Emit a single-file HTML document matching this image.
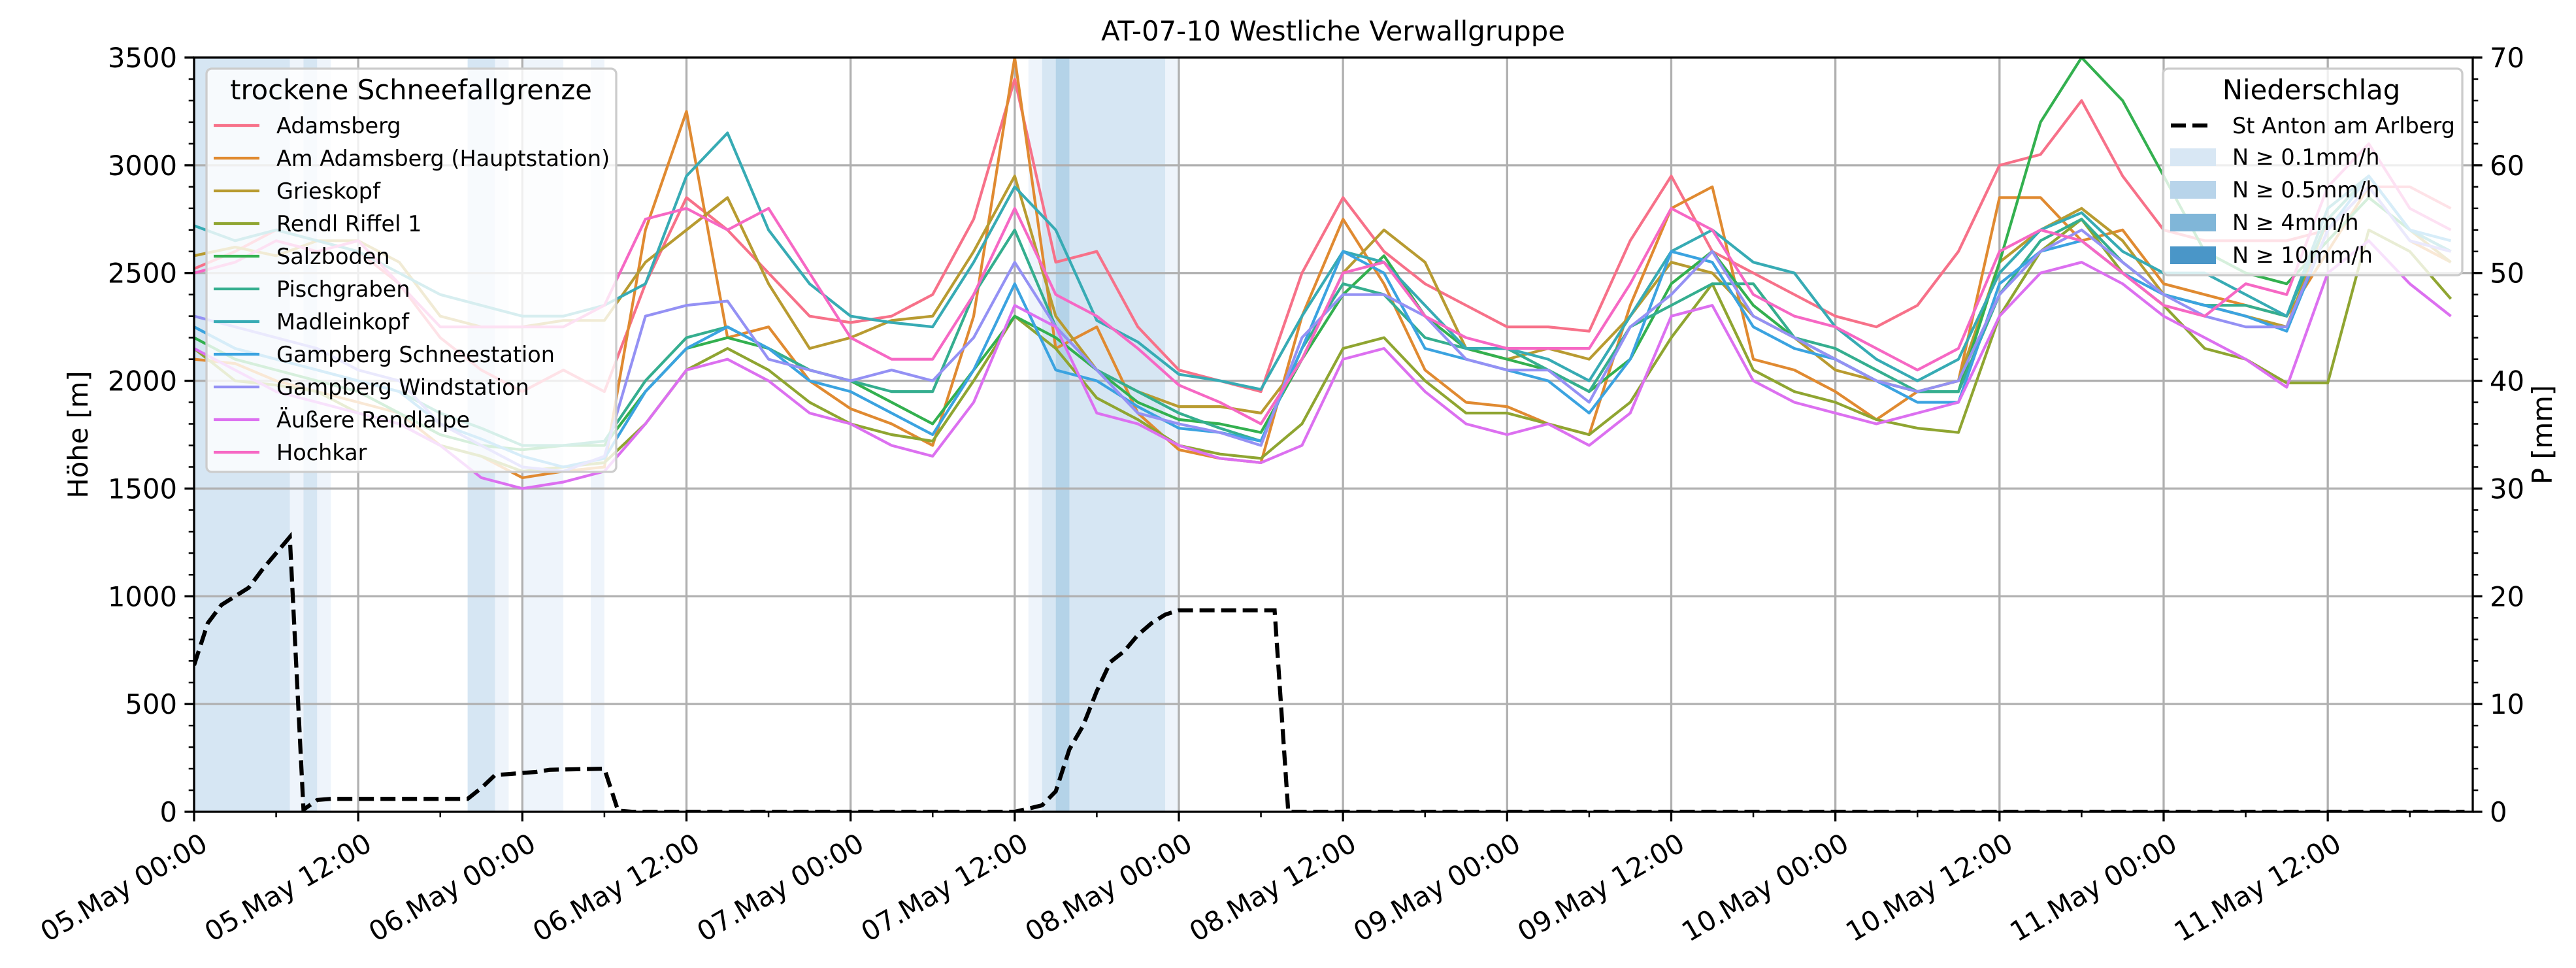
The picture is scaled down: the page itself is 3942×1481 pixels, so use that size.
<!DOCTYPE html>
<html><head><meta charset="utf-8"><title>AT-07-10 Westliche Verwallgruppe</title>
<style>html,body{margin:0;padding:0;background:#fff}svg{display:block;font-family:"DejaVu Sans","Liberation Sans",sans-serif}</style>
</head><body>
<svg id="chart" xmlns="http://www.w3.org/2000/svg" width="3942" height="1481" viewBox="0 0 3942 1481">
<defs><clipPath id="plotclip"><rect x="297" y="88" width="3487" height="1154"/></clipPath></defs>
<g id="bands" clip-path="url(#plotclip)"></g>
<g id="grid"></g>
<g id="series" clip-path="url(#plotclip)"></g>
<g id="precip" clip-path="url(#plotclip)"></g>
<g id="axes"></g>
<g id="legends"></g>
<text x="2040" y="62" font-size="41.7" text-anchor="middle">AT-07-10 Westliche Verwallgruppe</text>
<text x="0" y="0" font-size="41.7" text-anchor="middle" transform="translate(134,665) rotate(-90)">Höhe [m]</text>
<text x="0" y="0" font-size="41.7" text-anchor="middle" transform="translate(3905,665) rotate(-90)">P [mm]</text>
</svg>
<script>
const hours = [0,3,6,9,12,15,18,21,24,27,30,33,36,39,42,45,48,51,54,57,60,63,66,69,72,75,78,81,84,87,90,93,96,99,102,105,108,111,114,117,120,123,126,129,132,135,138,141,144,147,150,153,156,159,162,165];
const stationNames = ["Adamsberg","Am Adamsberg (Hauptstation)","Grieskopf","Rendl Riffel 1","Salzboden","Pischgraben","Madleinkopf","Gampberg Schneestation","Gampberg Windstation","Äußere Rendlalpe","Hochkar"];
const stationColors = ["#f77189","#e08a31","#b89b31","#8fa531","#33b04f","#35ae8f","#37abb4","#3ba3e0","#9491f4","#dc70f0","#f668c4"];
const adamsberg = [2520,2600,2700,2650,2600,2450,2200,2050,1950,2050,1950,2450,2850,2700,2500,2300,2270,2300,2400,2750,3400,2550,2600,2250,2050,2000,1950,2500,2850,2600,2450,2350,2250,2250,2230,2650,2950,2600,2500,2400,2300,2250,2350,2600,3000,3050,3300,2950,2700,2650,2650,2650,2700,2900,2900,2800];
const amAdamsberg = [2100,2080,2000,1950,1900,1850,1700,1650,1550,1580,1600,2700,3250,2200,2250,2000,1870,1800,1700,2300,3500,2150,2250,1850,1680,1640,1620,2300,2750,2450,2050,1900,1880,1800,1750,2350,2800,2900,2100,2050,1950,1820,1950,2000,2850,2850,2650,2700,2450,2400,2350,2300,2600,2900,2650,2550];
const grieskopf = [2580,2620,2580,2650,2650,2550,2300,2250,2250,2280,2280,2550,2700,2850,2450,2150,2200,2280,2300,2600,2950,2300,2050,1950,1880,1880,1850,2100,2500,2700,2550,2150,2100,2150,2100,2300,2550,2500,2300,2200,2050,2000,1950,2000,2550,2700,2800,2650,2400,2350,2300,2250,2750,2950,2700,2550];
const rendlRiffel = [2150,2000,1980,1950,1850,1800,1700,1650,1580,1600,1620,1800,2050,2150,2050,1900,1800,1750,1720,2000,2300,2150,1920,1820,1700,1660,1640,1800,2150,2200,2000,1850,1850,1800,1750,1900,2200,2450,2050,1950,1900,1820,1780,1760,2300,2600,2750,2500,2350,2150,2100,1990,1990,2700,2600,2380];
const salzboden = [2200,2100,2050,2000,1950,1850,1750,1700,1680,1700,1700,1950,2150,2200,2150,2050,2000,1900,1800,2050,2300,2200,2050,1900,1820,1800,1760,2100,2400,2580,2300,2150,2100,2050,1950,2100,2450,2600,2350,2200,2100,2000,1950,1950,2550,3200,3500,3300,2950,2600,2500,2450,2650,2850,2700,2600];
const pischgraben = [2250,2150,2100,2050,2000,1950,1850,1780,1700,1700,1720,2000,2200,2250,2150,2050,2000,1950,1950,2400,2700,2250,2050,1950,1850,1780,1720,2150,2450,2400,2200,2150,2150,2050,1950,2250,2350,2450,2450,2200,2150,2050,1950,1950,2400,2650,2750,2550,2400,2350,2350,2300,2750,2950,2700,2600];
const madleinkopf = [2720,2650,2700,2650,2600,2500,2400,2350,2300,2300,2350,2450,2950,3150,2700,2450,2300,2270,2250,2550,2900,2700,2280,2180,2030,2000,1960,2300,2600,2550,2350,2150,2150,2100,2000,2300,2600,2700,2550,2500,2250,2100,2000,2100,2500,2700,2780,2600,2500,2500,2400,2300,2800,2950,2700,2600];
const schneestation = [2250,2150,2100,2050,2000,1950,1800,1730,1650,1600,1640,1950,2150,2250,2150,2000,1950,1850,1750,2050,2450,2050,2000,1880,1780,1760,1720,2150,2600,2500,2150,2100,2050,2000,1850,2100,2600,2550,2250,2150,2100,2000,1900,1900,2450,2600,2650,2500,2400,2350,2300,2230,2700,2950,2700,2650];
const windstation = [2300,2250,2200,2150,2050,2000,1800,1700,1600,1580,1650,2300,2350,2370,2100,2050,2000,2050,2000,2200,2550,2250,2050,1850,1800,1760,1700,2200,2400,2400,2300,2100,2050,2050,1900,2250,2400,2600,2300,2200,2100,2000,1950,2000,2400,2600,2700,2550,2400,2300,2250,2250,2700,2900,2650,2600];
const rendlalpe = [2150,2050,1950,1900,1850,1800,1700,1550,1500,1530,1580,1800,2050,2100,2000,1850,1800,1700,1650,1900,2350,2250,1850,1800,1700,1640,1620,1700,2100,2150,1950,1800,1750,1800,1700,1850,2300,2350,2000,1900,1850,1800,1850,1900,2300,2500,2550,2450,2300,2200,2100,1970,2500,2650,2450,2300];
const hochkar = [2500,2550,2650,2600,2650,2450,2250,2250,2250,2250,2350,2750,2800,2700,2800,2500,2200,2100,2100,2400,2800,2400,2300,2150,1980,1900,1800,2100,2500,2550,2300,2200,2150,2150,2150,2450,2800,2700,2400,2300,2250,2150,2050,2150,2600,2700,2650,2500,2350,2300,2450,2400,2900,3100,2800,2700];
const precipHours = [0,1,2,3,4,5,6,7,8,9,10,20,21,22,23,25,26,30,31,32,60,61,62,63,64,65,66,67,68,69,70,71,72,79,80,166];
const precipValues = [13.6,17.5,19.2,20,20.8,22.5,24,25.5,0.2,1.1,1.2,1.2,2.2,3.4,3.5,3.7,3.9,4.0,0.1,0,0,0.3,0.6,1.9,5.8,8,11.2,13.9,14.9,16.4,17.5,18.3,18.7,18.7,0,0];
const bandStarts = [0,7,8,9,20,22,24,29,61,62,63,64,71];
const bandEnds = [7,8,9,10,22,23,27,30,62,63,64,71,72];
const bandLevels = [1,0,1,0,1,0,0,0,0,1,2,1,0];
const yTicks = [0,500,1000,1500,2000,2500,3000,3500];
const y2Ticks = [0,10,20,30,40,50,60,70];
const xTickLabels = ["05.May 00:00","05.May 12:00","06.May 00:00","06.May 12:00","07.May 00:00","07.May 12:00","08.May 00:00","08.May 12:00","09.May 00:00","09.May 12:00","10.May 00:00","10.May 12:00","11.May 00:00","11.May 12:00"];
const legendPrecipLabels = ["N ≥ 0.1mm/h","N ≥ 0.5mm/h","N ≥ 4mm/h","N ≥ 10mm/h"];

const series = [adamsberg,amAdamsberg,grieskopf,rendlRiffel,salzboden,pischgraben,madleinkopf,schneestation,windstation,rendlalpe,hochkar];
const L=297,R=3784,T=88,B=1242,HMAX=166.6;
const X=h=>L+h*(R-L)/HMAX;
const Y=v=>B-v/3500*(B-T);
const P=p=>B-p/70*(B-T);
const NS="http://www.w3.org/2000/svg";
const bandColors=["#eef4fb","#d6e6f3","#b4d3e8"];
const legColors=["#d8e7f4","#b8d4ea","#80b6d8","#4a96c8"];
function mk(tag,parent,attrs){const e=document.createElementNS(NS,tag);for(const k in attrs)e.setAttribute(k,attrs[k]);parent.appendChild(e);return e;}

const gb=document.getElementById('bands');
for(let i=0;i<bandStarts.length;i++){
  const r=mk('rect',gb,{x:X(bandStarts[i]),y:T,width:X(bandEnds[i])-X(bandStarts[i]),height:B-T,fill:bandColors[bandLevels[i]]});
  
  
}
const gg=document.getElementById('grid');
const ga=document.getElementById('axes');
for(let i=0;i<xTickLabels.length;i++){
  const x=X(i*12);
  const l=mk('line',gg,{x1:x,x2:x,y1:T,y2:B,stroke:"#b0b0b0","stroke-width":3.3});
  
  
  const t=mk('line',ga,{x1:x,x2:x,y1:B,y2:B+14.6,stroke:"#000","stroke-width":3.3});
  
  
  const tx=mk('text',ga,{x:0,y:0,"font-size":41.7,"text-anchor":"end",transform:`translate(${x+8},${B+30}) rotate(-30) translate(0,31)`});
  tx.textContent=xTickLabels[i];
  
  
}
for(let h=6;h<HMAX;h+=12){
  const t=mk('line',ga,{x1:X(h),x2:X(h),y1:B,y2:B+8.3,stroke:"#000","stroke-width":2.5});
  
  
}
yTicks.forEach(v=>{
  const y=Y(v);
  if(v>0&&v<3500){const l=mk('line',gg,{x1:L,x2:R,y1:y,y2:y,stroke:"#b0b0b0","stroke-width":3.3});
  
  }
  const t=mk('line',ga,{x1:L-14.6,x2:L,y1:y,y2:y,stroke:"#000","stroke-width":3.3});
  
  
  const tx=mk('text',ga,{x:L-26,y:y+15,"font-size":41.7,"text-anchor":"end"});
  tx.textContent=v;
  
  
});
for(let v=100;v<3500;v+=100){if(v%500===0)continue;
  const t=mk('line',ga,{x1:L-8.3,x2:L,y1:Y(v),y2:Y(v),stroke:"#000","stroke-width":2.5});
  
  
}
y2Ticks.forEach(p=>{
  const y=P(p);
  const t=mk('line',ga,{x1:R,x2:R+14.6,y1:y,y2:y,stroke:"#000","stroke-width":3.3});
  
  
  const tx=mk('text',ga,{x:R+26,y:y+15,"font-size":41.7,"text-anchor":"start"});
  tx.textContent=p;
  
  
});
for(let p=2;p<70;p+=2){if(p%10===0)continue;
  const t=mk('line',ga,{x1:R,x2:R+8.3,y1:P(p),y2:P(p),stroke:"#000","stroke-width":2.5});
  
  
}
const sp=mk('rect',ga,{x:L,y:T,width:R-L,height:B-T,fill:"none",stroke:"#000","stroke-width":3.3});



const gs=document.getElementById('series');
series.forEach((arr,si)=>{
  const d=arr.map((v,i)=>(i?'L':'M')+X(hours[i]).toFixed(1)+','+Y(v).toFixed(1)).join(' ');
  const p=mk('path',gs,{d:d,fill:"none",stroke:stationColors[si],"stroke-width":4.2,"stroke-linejoin":"round"});
  
  
});
const gp=document.getElementById('precip');
const pd=precipHours.map((h,i)=>(i?'L':'M')+X(h).toFixed(1)+','+P(precipValues[i]).toFixed(1)).join(' ');
const pl=mk('path',gp,{d:pd,fill:"none",stroke:"#000","stroke-width":6.25,"stroke-dasharray":"23 10"});



const gl=document.getElementById('legends');
const l1=mk('g',gl,{});


mk('rect',l1,{x:316,y:105,width:627,height:617,rx:8,fill:"rgba(255,255,255,0.8)",stroke:"#cccccc","stroke-width":3.3});
const lt=mk('text',l1,{x:629,y:152,"font-size":41.7,"text-anchor":"middle"});lt.textContent="trockene Schneefallgrenze";


stationNames.forEach((n,i)=>{
  const y=192+i*50;
  const e=mk('g',l1,{});
  
  
  mk('line',e,{x1:327,x2:397,y1:y,y2:y,stroke:stationColors[i],"stroke-width":4.2});
  const t=mk('text',e,{x:423,y:y+12,"font-size":33.5});t.textContent=n;
});
const l2=mk('g',gl,{});


mk('rect',l2,{x:3310,y:105,width:458,height:316,rx:8,fill:"rgba(255,255,255,0.8)",stroke:"#cccccc","stroke-width":3.3});
const lt2=mk('text',l2,{x:3537,y:152,"font-size":41.7,"text-anchor":"middle"});lt2.textContent="Niederschlag";


const e0=mk('g',l2,{});


mk('line',e0,{x1:3322,x2:3382,y1:192,y2:192,stroke:"#000","stroke-width":6.25,"stroke-dasharray":"23 10"});
const t0=mk('text',e0,{x:3416,y:204,"font-size":33.5});t0.textContent="St Anton am Arlberg";
legendPrecipLabels.forEach((n,i)=>{
  const y=240+i*50;
  const e=mk('g',l2,{});
  
  
  mk('rect',e,{x:3321,y:y-13,width:70,height:27,fill:legColors[i]});
  const t=mk('text',e,{x:3416,y:y+12,"font-size":33.5});t.textContent=n;
});
</script>
</body></html>
